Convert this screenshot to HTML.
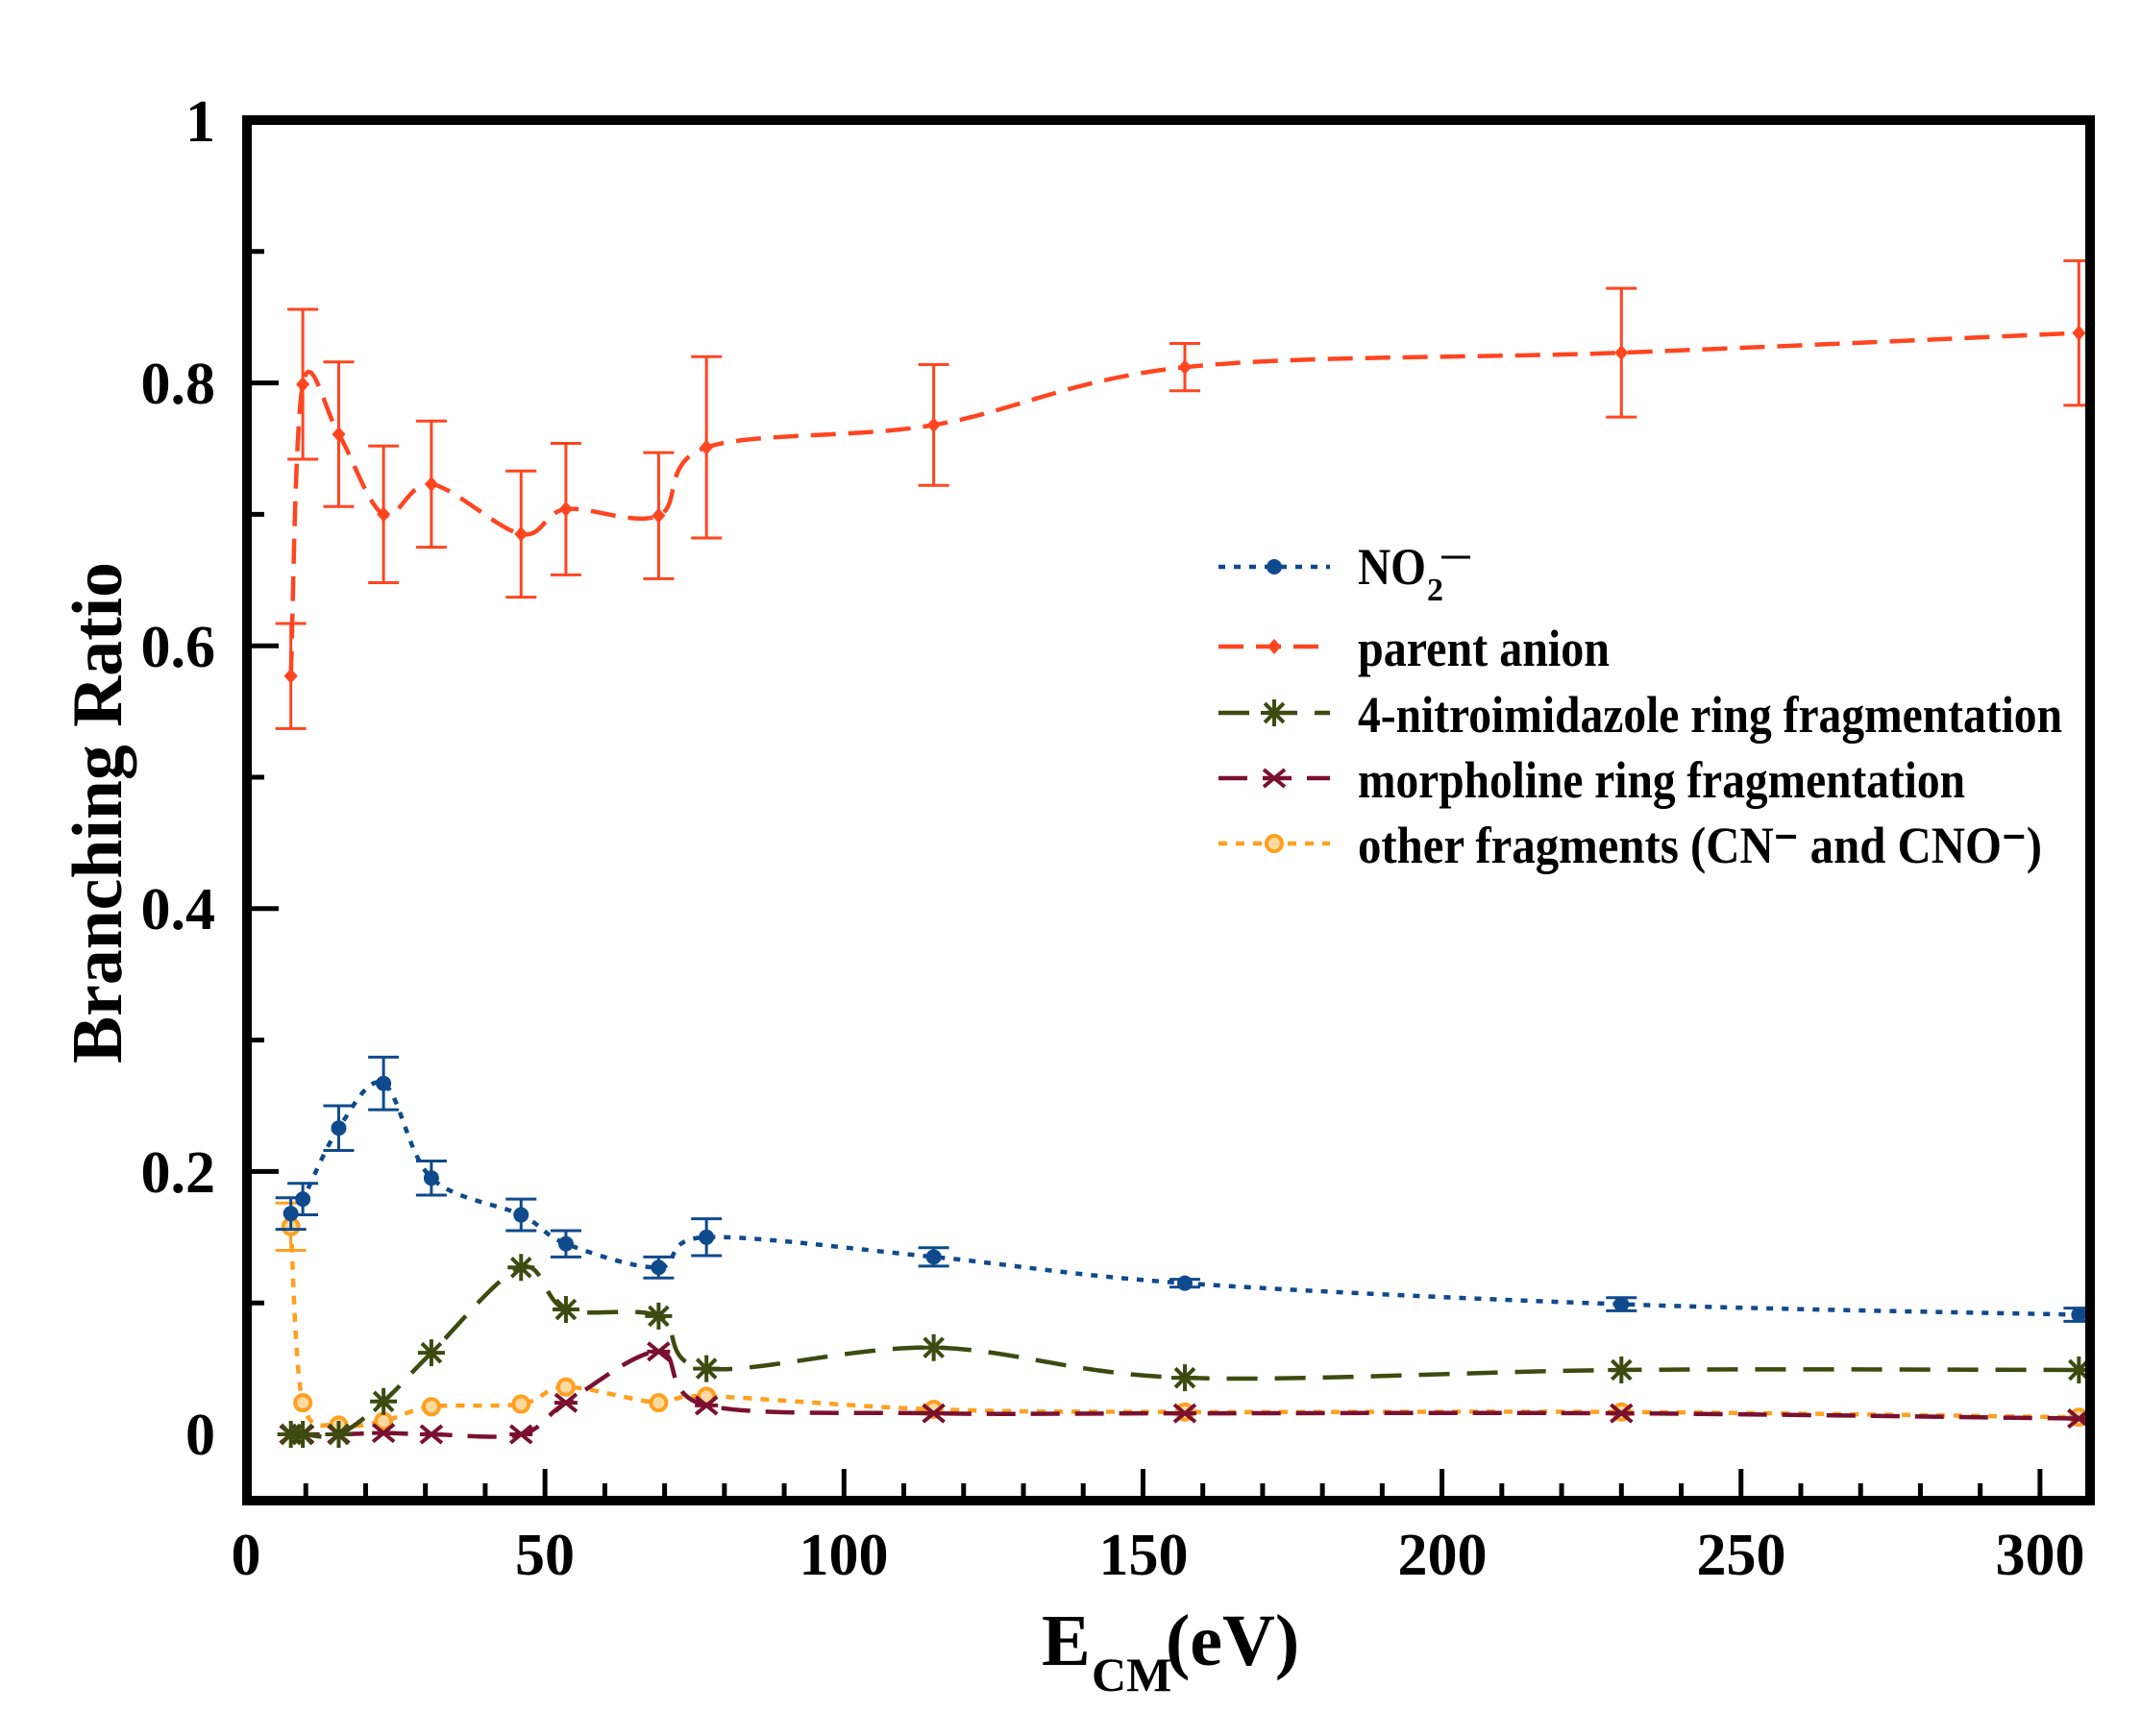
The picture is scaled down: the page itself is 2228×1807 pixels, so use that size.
<!DOCTYPE html>
<html><head><meta charset="utf-8"><style>html,body{margin:0;padding:0;background:#fff}svg{display:block}</style></head>
<body>
<svg id="s" xmlns="http://www.w3.org/2000/svg" width="2228" height="1807" viewBox="0 0 2228 1807">
<rect width="2228" height="1807" fill="#fff"/>
<g id="ticks" stroke="#000" stroke-width="5"></g>
<g id="data"></g>
<rect x="257" y="125" width="1918" height="1437" fill="none" stroke="#000" stroke-width="10"/>
<g font-family="'Liberation Serif',serif" font-weight="bold" fill="#000" font-size="62">
<text x="224" y="147" text-anchor="end">1</text>
<text x="224" y="420" text-anchor="end">0.8</text>
<text x="224" y="694" text-anchor="end">0.6</text>
<text x="224" y="967" text-anchor="end">0.4</text>
<text x="224" y="1241" text-anchor="end">0.2</text>
<text x="224" y="1514" text-anchor="end">0</text>
<text x="256" y="1639" text-anchor="middle">0</text>
<text x="567" y="1639" text-anchor="middle">50</text>
<text x="878" y="1639" text-anchor="middle">100</text>
<text x="1190" y="1639" text-anchor="middle">150</text>
<text x="1501" y="1639" text-anchor="middle">200</text>
<text x="1812" y="1639" text-anchor="middle">250</text>
<text x="2123" y="1639" text-anchor="middle">300</text>
<text transform="translate(126,846) rotate(-90)" text-anchor="middle" font-size="74" textLength="522" lengthAdjust="spacingAndGlyphs">Branching Ratio</text>
<text x="1084" y="1733" font-size="76">E</text>
<text x="1136" y="1760" font-size="50">CM</text>
<text x="1213" y="1733" font-size="76">(eV)</text>
</g>
<g id="legend" font-family="'Liberation Serif',serif" font-weight="bold" fill="#000" font-size="54">
<text x="1413" y="608" textLength="71" lengthAdjust="spacingAndGlyphs">NO</text>
<text x="1485" y="625" font-size="34">2</text>
<line x1="1500" x2="1530" y1="580" y2="580" stroke="#000" stroke-width="3"/>
<text x="1413" y="693" textLength="262" lengthAdjust="spacingAndGlyphs">parent anion</text>
<text x="1413" y="762" textLength="733" lengthAdjust="spacingAndGlyphs">4-nitroimidazole ring fragmentation</text>
<text x="1413" y="830" textLength="632" lengthAdjust="spacingAndGlyphs">morpholine ring fragmentation</text>
<text x="1413" y="898" textLength="712" lengthAdjust="spacingAndGlyphs">other fragments (CN⁻ and CNO⁻)</text>
</g>
</svg>
<script>
const NS="http://www.w3.org/2000/svg";
const X=e=>256+e*6.223, Y=v=>1493-v*1368;
function el(tag,attrs,parent){const e=document.createElementNS(NS,tag);for(const k in attrs)e.setAttribute(k,attrs[k]);parent.appendChild(e);return e;}
const T=document.getElementById('ticks');
for(let e=10;e<=300;e+=10){const maj=e%50==0;el('line',{x1:X(e),x2:X(e),y1:1562,y2:1562-(maj?33:18)},T);}
for(let i=1;i<=9;i++){const v=i/10;const maj=i%2==0;el('line',{x1:257,x2:257+(maj?33:18),y1:Y(v),y2:Y(v)},T);}
const xs=[7.5,9.5,15.5,23,31,46,53.5,69,77,115,157,230,306.5];
const series=[
 {c:'#ffa020',dash:'9 9',m:'oc',v:[0.158,0.024,0.007,0.010,0.021,0.023,0.036,0.024,0.029,0.019,0.017,0.017,0.013],err:[0.018,0,0,0,0,0,0,0,0,0,0,0,0]},
 {c:'#7a1030',dash:'30 16',m:'x',v:[0,0,0,0.001,0,0,0.024,0.063,0.022,0.016,0.016,0.016,0.012]},
 {c:'#3d4a10',dash:'32 18',m:'ast',v:[0,0,0,0.025,0.062,0.127,0.095,0.090,0.050,0.066,0.043,0.049,0.049]},
 {c:'#0f4a8c',dash:'7 9',m:'dot',v:[0.168,0.179,0.233,0.267,0.195,0.167,0.145,0.127,0.150,0.135,0.115,0.099,0.091],err:[0.012,0.012,0.017,0.02,0.013,0.012,0.01,0.008,0.014,0.007,0.003,0.005,0.005]},
 {c:'#ff4520',dash:'26 13',m:'dia',v:[0.577,0.799,0.761,0.700,0.723,0.685,0.704,0.699,0.751,0.768,0.812,0.823,0.838],err:[0.04,0.057,0.055,0.052,0.048,0.048,0.05,0.048,0.069,0.046,0.018,0.049,0.055]}
];
const D=document.getElementById('data');
function marker(m,x,y,c,g){
 if(m=='dot')el('circle',{cx:x,cy:y,r:8,fill:c},g);
 else if(m=='dia')el('path',{d:`M${x} ${y-8}L${x+7} ${y}L${x} ${y+8}L${x-7} ${y}Z`,fill:c},g);
 else if(m=='oc'){el('circle',{cx:x,cy:y,r:8,fill:'#ffd9a0',stroke:c,'stroke-width':4},g);}
 else if(m=='x'){el('path',{d:`M${x-11} ${y-9}L${x+11} ${y+9}M${x-11} ${y+9}L${x+11} ${y-9}M${x-12} ${y}L${x+12} ${y}`,stroke:c,'stroke-width':4},g);}
 else if(m=='ast'){let d='';for(let k=0;k<4;k++){const a=k*Math.PI/4;d+=`M${x-14*Math.cos(a)} ${y-14*Math.sin(a)}L${x+14*Math.cos(a)} ${y+14*Math.sin(a)}`;}el('path',{d,stroke:c,'stroke-width':4},g);}
}
function smooth(p){let d=`M${p[0][0]} ${p[0][1]}`;for(let i=0;i<p.length-1;i++){const p0=p[i-1]||p[i],p1=p[i],p2=p[i+1],p3=p[i+2]||p2;const t=0.5/3;
 d+=`C${p1[0]+(p2[0]-p0[0])*t} ${p1[1]+(p2[1]-p0[1])*t} ${p2[0]-(p3[0]-p1[0])*t} ${p2[1]-(p3[1]-p1[1])*t} ${p2[0]} ${p2[1]}`;}return d;}
for(const s of series){
 const g=el('g',{},D);
 const pts=xs.map((e,i)=>[X(e),Y(s.v[i])]);
 el('path',{d:smooth(pts),fill:'none',stroke:s.c,'stroke-width':4.5,'stroke-dasharray':s.dash},g);
 if(s.err)pts.forEach((p,i)=>{const e=s.err[i];if(!e)return;const y1=Y(s.v[i]+e),y2=Y(s.v[i]-e);
  el('path',{d:`M${p[0]} ${y1}L${p[0]} ${y2}M${p[0]-16} ${y1}L${p[0]+16} ${y1}M${p[0]-16} ${y2}L${p[0]+16} ${y2}`,stroke:s.c,'stroke-width':3,fill:'none'},g);});
 pts.forEach(p=>marker(s.m,p[0],p[1],s.c,g));
}
const L=document.getElementById('legend');
const leg=[['#0f4a8c','7 9','dot',590],['#ff4520','26 13','dia',673],['#3d4a10','32 18','ast',742],['#7a1030','30 16','x',810],['#ffa020','9 9','oc',878]];
for(const [c,dash,m,y] of leg){el('line',{x1:1268,x2:1384,y1:y,y2:y,stroke:c,'stroke-width':4.5,'stroke-dasharray':dash},L);marker(m,1326,y,c,L);}
</script>
</body></html>
